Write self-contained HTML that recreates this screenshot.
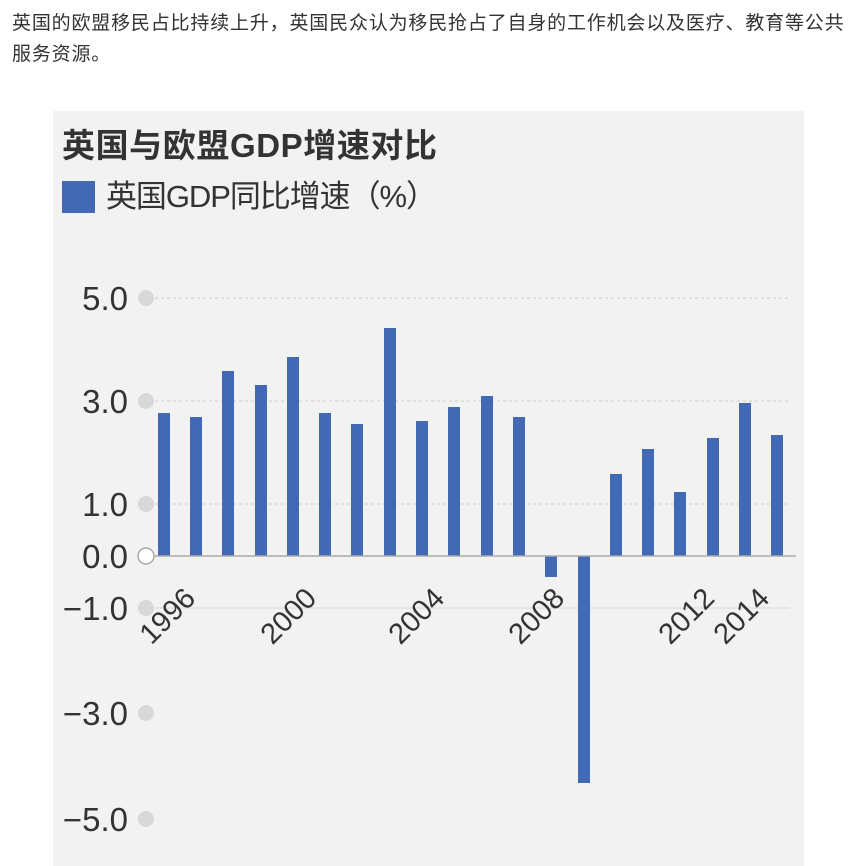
<!DOCTYPE html>
<html><head><meta charset="utf-8"><style>
html,body{margin:0;padding:0;background:#fff;width:851px;height:866px;overflow:hidden}
.t{position:absolute;left:12px;top:8px;width:845px;white-space:nowrap;font:19px/31px "Liberation Sans","Noto Sans CJK SC",sans-serif;letter-spacing:0.82px;color:#333}
svg{position:absolute;left:0;top:0}
</style></head><body>
<div class="t">英国的欧盟移民占比持续上升，英国民众认为移民抢占了自身的工作机会以及医疗、教育等公共<br>服务资源。</div>
<svg width="851" height="866" font-family="Liberation Sans, Noto Sans CJK SC, sans-serif">
<rect x="53" y="111" width="751" height="755" fill="#f2f2f2"/>
<text x="62" y="157" font-size="33" font-weight="bold" fill="#333" textLength="375">英国与欧盟GDP增速对比</text>
<rect x="62" y="181" width="33" height="32" fill="#4169b4"/>
<text x="106" y="207" font-size="31" fill="#333" textLength="331">英国GDP同比增速（%）</text>
<g stroke="#ccc" stroke-dasharray="3,3" stroke-width="1">
<line x1="155" y1="298" x2="790" y2="298"/><line x1="155" y1="401" x2="790" y2="401"/><line x1="155" y1="504" x2="790" y2="504"/>
</g>
<line x1="155" y1="608" x2="790" y2="608" stroke="#d8d8d8"/>
<g font-size="33" fill="#333" text-anchor="end">
<text x="128" y="310">5.0</text><text x="128" y="413">3.0</text><text x="128" y="516">1.0</text><text x="128" y="568">0.0</text><text x="128" y="620">−1.0</text><text x="128" y="725">−3.0</text><text x="128" y="831">−5.0</text>
</g>
<g fill="#d8d8d8"><circle cx="146" cy="298" r="8"/><circle cx="146" cy="401" r="8"/><circle cx="146" cy="504" r="8"/><circle cx="146" cy="608" r="8"/><circle cx="146" cy="713" r="8"/><circle cx="146" cy="819" r="8"/></g>
<g fill="#4169b4">
<rect x="158" y="413" width="12" height="143"/>
<rect x="190" y="417" width="12" height="139"/>
<rect x="222" y="371" width="12" height="185"/>
<rect x="255" y="385" width="12" height="171"/>
<rect x="287" y="357" width="12" height="199"/>
<rect x="319" y="413" width="12" height="143"/>
<rect x="351" y="424" width="12" height="132"/>
<rect x="384" y="328" width="12" height="228"/>
<rect x="416" y="421" width="12" height="135"/>
<rect x="448" y="407" width="12" height="149"/>
<rect x="481" y="396" width="12" height="160"/>
<rect x="513" y="417" width="12" height="139"/>
<rect x="545" y="556" width="12" height="21"/>
<rect x="578" y="556" width="12" height="227"/>
<rect x="610" y="474" width="12" height="82"/>
<rect x="642" y="449" width="12" height="107"/>
<rect x="674" y="492" width="12" height="64"/>
<rect x="707" y="438" width="12" height="118"/>
<rect x="739" y="403" width="12" height="153"/>
<rect x="771" y="435" width="12" height="121"/>
</g>
<line x1="155" y1="556" x2="796" y2="556" stroke="#aaa" stroke-width="1.5"/>
<circle cx="146" cy="556" r="8" fill="#fff" stroke="#aaa" stroke-width="1.5"/>
<g font-size="29" fill="#333" text-anchor="end">
<text transform="translate(197,600) rotate(-45)">1996</text>
<text transform="translate(318,600) rotate(-45)">2000</text>
<text transform="translate(446,600) rotate(-45)">2004</text>
<text transform="translate(566,600) rotate(-45)">2008</text>
<text transform="translate(716,600) rotate(-45)">2012</text>
<text transform="translate(771,600) rotate(-45)">2014</text>
</g>
</svg>
</body></html>
